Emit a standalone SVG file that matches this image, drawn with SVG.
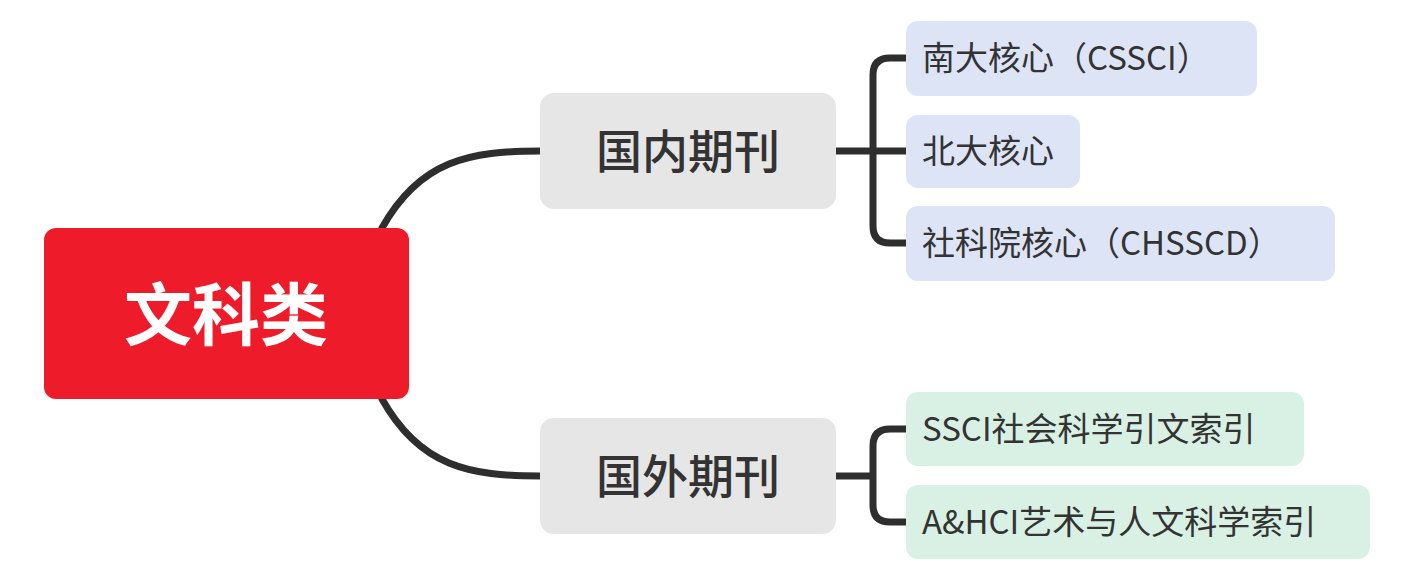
<svg xmlns="http://www.w3.org/2000/svg" width="1411" height="583" viewBox="0 0 1411 583">
<style>
.c{fill:none;stroke:#2e2e2e;stroke-width:7;stroke-linecap:round}
.m{fill:#e6e6e6}
.b{fill:#dde4f6}
.g{fill:#d9f1e4}
text{font-family:"Noto Sans CJK SC","Noto Sans",sans-serif;fill:#333}
.mt{font-size:46px;font-weight:500}
.lt{font-size:33px}
</style>
<rect width="1411" height="583" fill="#fff"/>
<g id="connectors">
<path class="c" d="M382 228 C420 160 470 151 540 151"/>
<path class="c" d="M382 399 C420 467 470 476 540 476"/>
<path class="c" d="M836 151 H873 M906 58 H890 Q873 58 873 75 V226 Q873 243 890 243 H906 M873 151 H906"/>
<path class="c" d="M836 476 H873 M906 429 H890 Q873 429 873 446 V505 Q873 522 890 522 H906"/>
</g>
<g id="root"><rect x="44" y="228" width="365" height="171" rx="12" fill="#ee1c2b"/><text x="226" y="340" text-anchor="middle" font-size="68" font-weight="700" style="fill:#fff">文科类</text></g>
<g id="n1"><rect class="m" x="540" y="93" width="296" height="116" rx="14"/><text class="mt" x="688" y="168" text-anchor="middle">国内期刊</text></g>
<g id="n2"><rect class="m" x="540" y="418" width="296" height="116" rx="14"/><text class="mt" x="688" y="493" text-anchor="middle">国外期刊</text></g>
<g id="l1"><rect class="b" x="906" y="21" width="351" height="75" rx="12"/><text class="lt" x="922" y="70">南大核心（CSSCI）</text></g>
<g id="l2"><rect class="b" x="906" y="115" width="174" height="73" rx="12"/><text class="lt" x="922" y="163">北大核心</text></g>
<g id="l3"><rect class="b" x="906" y="206" width="429" height="75" rx="12"/><text class="lt" x="922" y="255">社科院核心（CHSSCD）</text></g>
<g id="l4"><rect class="g" x="906" y="392" width="398" height="74" rx="12"/><text class="lt" x="922" y="441">SSCI社会科学引文索引</text></g>
<g id="l5"><rect class="g" x="906" y="485" width="464" height="74" rx="12"/><text class="lt" x="922" y="534">A&amp;HCI艺术与人文科学索引</text></g>
</svg>
